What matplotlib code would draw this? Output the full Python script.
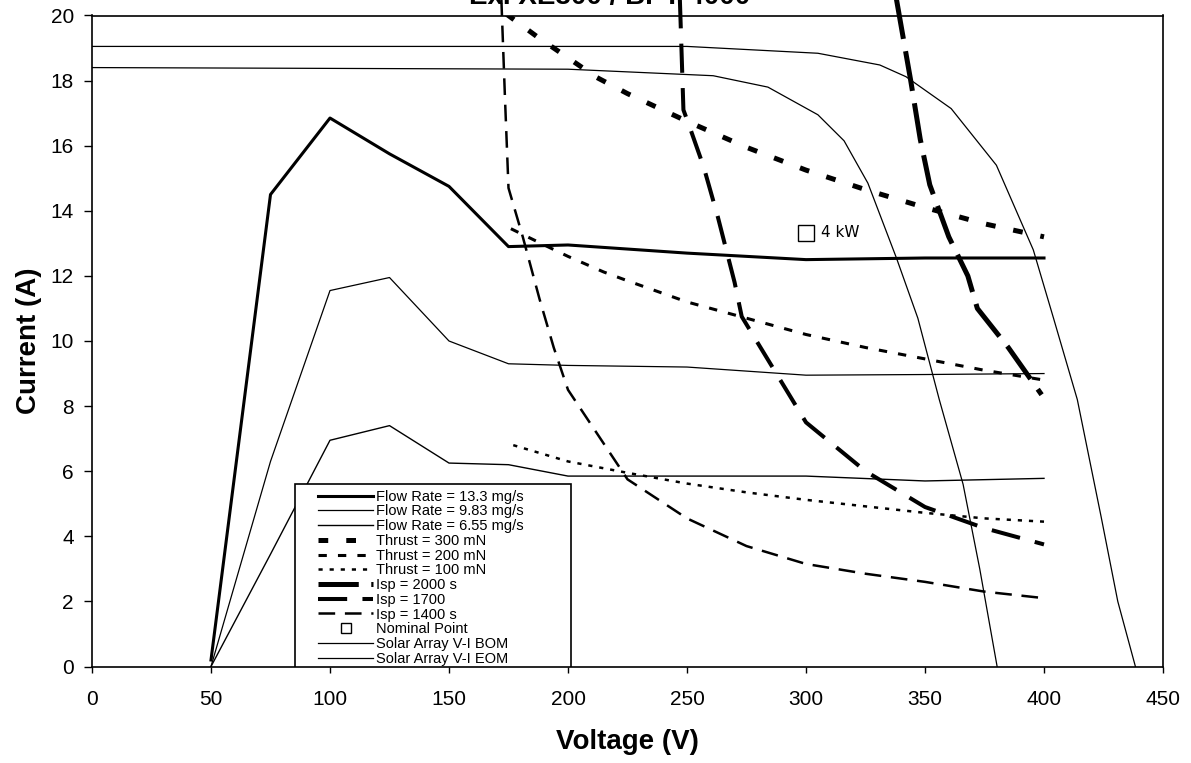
import matplotlib
matplotlib.use("Agg")
import matplotlib.pyplot as plt
from matplotlib.patches import Rectangle

plt.rcParams['font.family'] = ['Liberation Sans', 'DejaVu Sans']
plt.rcParams['lines.scale_dashes'] = False

# flow rate curves (thruster V-I at constant flow)
flow_v = [50, 75, 100, 125, 150, 175, 200, 250, 300, 350, 400]
flow_133 = [0.2, 14.5, 16.85, 15.75, 14.75, 12.9, 12.95, 12.7, 12.5, 12.55, 12.55]
flow_983 = [0.0, 6.3, 11.55, 11.95, 10.0, 9.3, 9.25, 9.2, 8.95, 8.97, 9.0]
flow_655 = [0.0, 3.45, 6.95, 7.4, 6.25, 6.2, 5.85, 5.85, 5.85, 5.7, 5.78]

# constant thrust curves
thr300_v = [174, 187, 200, 212, 225, 250, 275, 300, 325, 350, 375, 400]
thr300_i = [20.05, 19.35, 18.7, 18.1, 17.6, 16.75, 15.95, 15.25, 14.65, 14.1, 13.6, 13.2]
thr200_v = [176, 190, 200, 215, 225, 250, 275, 300, 325, 350, 375, 400]
thr200_i = [13.45, 12.95, 12.6, 12.12, 11.85, 11.2, 10.7, 10.2, 9.8, 9.45, 9.1, 8.8]
thr100_v = [177, 200, 225, 250, 275, 300, 325, 350, 375, 400]
thr100_i = [6.8, 6.3, 5.95, 5.62, 5.35, 5.12, 4.92, 4.72, 4.55, 4.45]

# constant Isp curves
isp2000_v = [338, 344, 348, 352, 360, 368, 372, 385, 399]
isp2000_i = [20.5, 18.0, 16.2, 14.8, 13.2, 12.0, 11.0, 9.8, 8.35]
isp1700_v = [247, 248.5, 251, 257, 263, 270, 273, 300, 325, 350, 375, 400]
isp1700_i = [20.5, 17.1, 16.6, 15.35, 13.8, 11.8, 10.75, 7.5, 6.0, 4.9, 4.25, 3.75]
isp1400_v = [172, 173.5, 175, 181, 188, 194, 200, 225, 250, 275, 300, 325, 350, 375, 400]
isp1400_i = [20.5, 17.5, 14.7, 13.2, 11.3, 9.8, 8.5, 5.75, 4.55, 3.7, 3.15, 2.85, 2.6, 2.3, 2.1]

nominal_v = [300]
nominal_i = [13.33]

# solar array
bom_v = [0, 250, 305, 331, 342, 361, 380, 395.5, 404, 414, 424, 431, 438.4]
bom_i = [19.05, 19.05, 18.84, 18.48, 18.12, 17.14, 15.4, 12.8, 10.7, 8.2, 4.6, 2.0, 0]
eom_v = [0, 200, 261, 284, 305, 316, 326, 338, 347, 356, 366, 373, 380.3]
eom_i = [18.4, 18.35, 18.15, 17.8, 16.95, 16.15, 14.85, 12.55, 10.7, 8.2, 5.6, 3.0, 0]

fig = plt.figure(figsize=(11.91, 7.63), dpi=100)
ax = fig.add_axes([92 / 1191, 1 - 666.5 / 763, 1071 / 1191, 651 / 763])

h = []
h += ax.plot(flow_v, flow_133, color='black', lw=2.2, label='Flow Rate = 13.3 mg/s')
h += ax.plot(flow_v, flow_983, color='black', lw=0.9, label='Flow Rate = 9.83 mg/s')
h += ax.plot(flow_v, flow_655, color='black', lw=1.0, label='Flow Rate = 6.55 mg/s')
h += ax.plot(thr300_v, thr300_i, color='black', lw=3.6, dashes=(7, 13), label='Thrust = 300 mN')
h += ax.plot(thr200_v, thr200_i, color='black', lw=2.2, dashes=(6, 8), label='Thrust = 200 mN')
h += ax.plot(thr100_v, thr100_i, color='black', lw=1.8, dashes=(3, 5), label='Thrust = 100 mN')
h += ax.plot(isp2000_v, isp2000_i, color='black', lw=3.6, dashes=(29, 9), clip_on=False, label='Isp = 2000 s')
h += ax.plot(isp1700_v, isp1700_i, color='black', lw=2.9, dashes=(21, 11), clip_on=False, label='Isp = 1700')
h += ax.plot(isp1400_v, isp1400_i, color='black', lw=1.8, dashes=(12, 7), clip_on=False, label='Isp = 1400 s')
h += ax.plot(nominal_v, nominal_i, linestyle='none', marker='s', markersize=12,
             markerfacecolor='white', markeredgecolor='black', markeredgewidth=1.0,
             label='Nominal Point')
h += ax.plot(bom_v, bom_i, color='black', lw=0.9, label='Solar Array V-I BOM')
h += ax.plot(eom_v, eom_i, color='black', lw=0.9, label='Solar Array V-I EOM')

ax.text(306.5, 13.33, '4 kW', family='DejaVu Sans', fontsize=11, va='center', ha='left')

ax.set_xlim(0, 450)
ax.set_ylim(0, 20)
ax.set_xticks(range(0, 451, 50))
ax.set_yticks(range(0, 21, 2))
ax.tick_params(axis='x', direction='out', length=4, width=1, pad=13, labelsize=15)
ax.tick_params(axis='y', direction='out', length=6, width=1, pad=7, labelsize=15)
for s in ax.spines.values():
    s.set_linewidth(1.2)
ax.set_xlabel('Voltage (V)', fontsize=20, fontweight='bold', labelpad=14)
ax.set_ylabel('Current (A)', fontsize=20, fontweight='bold', labelpad=6)

# title sits mostly above the picture, only its lower edge shows
fig.text(610 / 1191, 1 - 4 / 763, 'Ex. XE300 / BPT-4000', ha='center', va='baseline',
         fontsize=20, fontweight='bold')

box = Rectangle((0.1895, 0.0), 0.2578, 0.2803, transform=ax.transAxes,
                facecolor='white', edgecolor='black', lw=1.2, zorder=4)
ax.add_patch(box)
leg = ax.legend(handles=h, loc='upper left', bbox_to_anchor=(0.211, 0.2715), frameon=False,
                fontsize=10.5, handlelength=3.8, handletextpad=0.2, labelspacing=0.05,
                borderpad=0, borderaxespad=0, markerscale=0.6)
leg.set_zorder(5)

fig.savefig('out.png', dpi=100)
